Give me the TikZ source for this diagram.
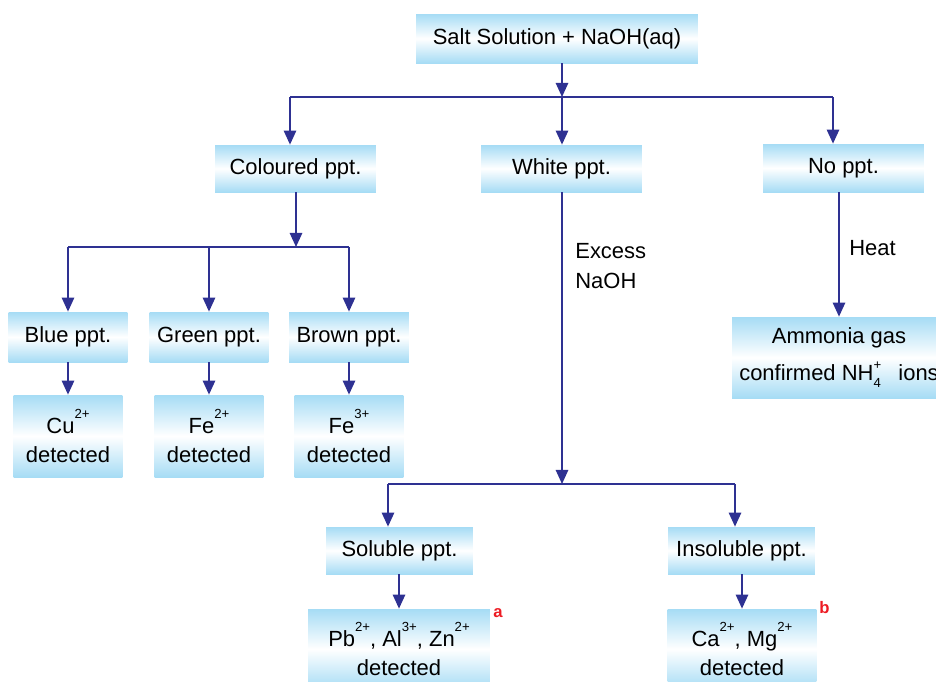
\documentclass[tikz,border=0pt]{standalone}
\usepackage{fontspec}
\setmainfont{Liberation Sans}
\usetikzlibrary{arrows.meta}
\definecolor{linkblue}{RGB}{46,49,146}
\definecolor{boxblue}{RGB}{166,220,245}
\definecolor{tagcolor}{RGB}{237,28,36}
\newcommand{\chargeup}[1]{\raisebox{0.72em}{\fontsize{7.5}{9}\selectfont #1}}
\begin{document}
\begin{tikzpicture}[x=0.02cm, y=-0.02cm,
  flowbox/.style={rectangle, top color=boxblue, bottom color=boxblue, middle color=white, inner sep=0pt, align=center, font=\fontsize{12.5}{16.5}\selectfont},
  link/.style={draw=linkblue, line width=1.1pt},
  arr/.style={link, -{Triangle[width=7pt,length=8pt]}},
  note/.style={anchor=north west, inner sep=0pt, align=left, font=\fontsize{12.5}{17}\selectfont},
  tagred/.style={anchor=base west, inner sep=0pt, text=tagcolor, font=\fontsize{9.5}{11}\selectfont\bfseries}]
\useasboundingbox (0,0) rectangle (936,681);
\clip (0,0) rectangle (936,681);
\node[flowbox, minimum width=5.64cm, minimum height=0.98cm] (salt) at (557,38.5) {Salt Solution + NaOH(aq)};
\node[flowbox, minimum width=3.22cm, minimum height=0.94cm] (col) at (295.5,168.5) {Coloured ppt.};
\node[flowbox, minimum width=3.22cm, minimum height=0.94cm] (white) at (561.5,168.5) {White ppt.};
\node[flowbox, minimum width=3.22cm, minimum height=0.96cm] (noppt) at (843.5,168) {No ppt.};
\node[flowbox, minimum width=2.38cm, minimum height=1.0cm] (blue) at (68,337) {Blue ppt.};
\node[flowbox, minimum width=2.38cm, minimum height=1.0cm] (green) at (209,337) {Green ppt.};
\node[flowbox, minimum width=2.4cm, minimum height=1.0cm] (brown) at (349,337) {Brown ppt.};
\node[flowbox, minimum width=2.18cm, minimum height=1.64cm] (cu) at (68,436) {Cu\chargeup{2+}\\detected};
\node[flowbox, minimum width=2.18cm, minimum height=1.64cm] (fetwo) at (209,436) {Fe\chargeup{2+}\\detected};
\node[flowbox, minimum width=2.18cm, minimum height=1.64cm] (fethree) at (349,436) {Fe\chargeup{3+}\\detected};
\node[flowbox, minimum width=2.94cm, minimum height=0.94cm] (sol) at (399.5,550.5) {Soluble ppt.};
\node[flowbox, minimum width=2.94cm, minimum height=0.94cm] (insol) at (741.5,550.5) {Insoluble ppt.};
\node[flowbox, minimum width=3.64cm, minimum height=1.6cm] (pb) at (399,649) {Pb\chargeup{2+}, Al\chargeup{3+}, Zn\chargeup{2+}\\detected};
\node[flowbox, minimum width=2.98cm, minimum height=1.6cm] (ca) at (742,649) {Ca\chargeup{2+}, Mg\chargeup{2+}\\detected};
\node[flowbox, minimum width=4.28cm, minimum height=1.62cm, font=\fontsize{12.5}{21}\selectfont] (ammonia) at (839,357.5) {Ammonia gas\\confirmed NH\rlap{\raisebox{0.5em}{\fontsize{7.5}{9}\selectfont+}}\raisebox{-0.35em}{\fontsize{7.5}{9}\selectfont 4}\hspace{0.8em}ions};
\node[note] (excess) at (575,243) {Excess\\NaOH};
\node[note] (heat) at (849,240) {Heat};
\node[tagred] (taga) at (493,617) {a};
\node[tagred] (tagb) at (819,613) {b};
% junctions
\coordinate (s0) at (562,97);
\coordinate (s0l) at (290,97);
\coordinate (s0r) at (833,97);
\coordinate (s1) at (296,247);
\coordinate (s1l) at (68,247);
\coordinate (s1r) at (349,247);
\coordinate (s2) at (562,484);
\coordinate (s2l) at (388,484);
\coordinate (s2r) at (735,484);
% first split
\draw[arr] (s0 |- salt.south) -- (s0);
\draw[link] (s0l) -- (s0r);
\draw[arr] (s0l) -- (s0l |- col.north);
\draw[arr] (s0) -- (s0 |- white.north);
\draw[arr] (s0r) -- (s0r |- noppt.north);
% coloured branch
\draw[arr] (s1 |- col.south) -- (s1);
\draw[link] (s1l) -- (s1r);
\foreach \b in {blue,green,brown}
  \draw[arr] (\b |- s1) -- (\b.north);
\draw[arr] (blue.south) -- (cu.north);
\draw[arr] (green.south) -- (fetwo.north);
\draw[arr] (brown.south) -- (fethree.north);
% white branch
\draw[arr] (s2 |- white.south) -- (s2);
\draw[link] (s2l) -- (s2r);
\draw[arr] (s2l) -- (s2l |- sol.north);
\draw[arr] (s2r) -- (s2r |- insol.north);
\draw[arr] (pb |- sol.south) -- (pb.north);
\draw[arr] (ca |- insol.south) -- (ca.north);
% no ppt branch
\draw[arr] (noppt.south -| ammonia) -- (ammonia.north);
\end{tikzpicture}
\end{document}
